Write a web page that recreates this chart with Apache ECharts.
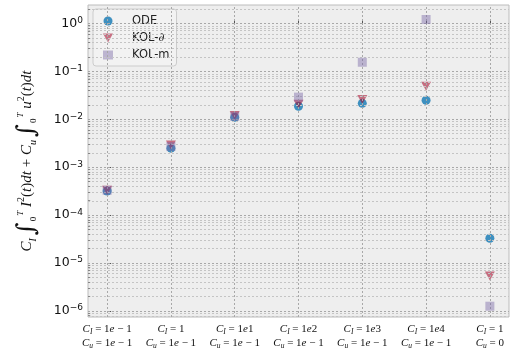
<!DOCTYPE html>
<html><head><meta charset="utf-8">
<script src="https://cdn.jsdelivr.net/npm/echarts@6/dist/echarts.min.js"></script>
<style>html,body{margin:0;padding:0;background:#fff}#c{width:510px;height:356px}</style>
</head><body><div id="c"></div>
<script>
// ---- data ----
const catCI = ['1e-1', '1', '1e1', '1e2', '1e3', '1e4', '1'];
const catCu = ['1e-1', '1e-1', '1e-1', '1e-1', '1e-1', '1e-1', '0'];
const odeVals  = [3.2e-4, 2.5e-3, 0.011, 0.0187, 0.0215, 0.025, 3.3e-5];
const kolDVals = [3.3e-4, 2.9e-3, 0.012, 0.0205, 0.026, 0.049, 5.4e-6];
const kolMVals = [3.3e-4, 2.7e-3, 0.0115, 0.029, 0.155, 1.21, 1.26e-6];
const yTickExps = [-6, -5, -4, -3, -2, -1, 0];
const xTicks = [0, 1, 2, 3, 4, 5, 6];

const Y_MIN = -6.125, Y_MAX = 0.385, X_MIN = -0.3, X_MAX = 6.3;

function toPts(vals) { return vals.map((v, i) => [i, Math.log10(v)]); }

function mathNum(s) {
  const m = s.match(/^(\d+)(?:e(-?)(\d+))?$/);
  let out = '{n|' + m[1] + '}';
  if (m[3] !== undefined) out += '{i|e}{n|' + (m[2] ? ' − ' : '') + m[3] + '}';
  return out;
}

// gridlines
const majorY = yTickExps.map(e => ({ yAxis: e }));
const minorY = [];
for (let e = -7; e <= 0; e++) {
  for (let k = 2; k <= 9; k++) {
    const v = Math.log10(k) + e;
    if (v > Y_MIN && v < Y_MAX) minorY.push(v);
  }
}
const minorTickLines = minorY.map(v => [{ coord: [X_MIN, v] }, { coord: [X_MIN + 0.035, v] }]);

const serif = 'Liberation Serif';
const chart = echarts.init(document.getElementById('c'));
chart.setOption({
  animation: false,
  backgroundColor: '#ffffff',
  grid: { left: 88, right: 1, top: 5, bottom: 39, show: true, backgroundColor: '#eeeeee', borderColor: '#bcbcbc', borderWidth: 1 },
  legend: {
    left: 93, top: 9, orient: 'vertical',
    itemWidth: 10, itemHeight: 9, itemGap: 5,
    padding: [6, 7, 5, 10],
    backgroundColor: 'rgba(242,242,242,0.85)', borderColor: '#cccccc', borderWidth: 1, borderRadius: 3,
    itemStyle: { borderWidth: 0 },
    data: ['ODE', 'KOL-∂', 'KOL-m'],
    formatter: function (n) {
      if (n === 'KOL-∂') return '{a|KOL-}{d|∂}';
      return '{a|' + n + '}';
    },
    textStyle: {
      padding: [0, 0, 0, 14],
      rich: {
        a: { fontFamily: 'DejaVu Sans', fontSize: 11.5, color: '#222', lineHeight: 12 },
        d: { fontFamily: 'DejaVu Serif', fontStyle: 'italic', fontSize: 11.5, color: '#222', lineHeight: 12 }
      }
    }
  },
  xAxis: {
    type: 'value', min: X_MIN, max: X_MAX,
    axisLine: { show: false },
    splitLine: { show: false },
    axisTick: { show: true, inside: true, length: 3, customValues: xTicks, lineStyle: { color: '#555' } },
    axisLabel: {
      customValues: xTicks, margin: 5, color: '#111', lineHeight: 14,
      formatter: function (v) {
        const i = Math.round(v);
        return '{i|C}{sb|I}{n| = }' + mathNum(catCI[i]) + '\n{i|C}{sb|u}{n| = }' + mathNum(catCu[i]);
      },
      rich: {
        n: { fontFamily: serif, fontSize: 11, lineHeight: 14, color: '#111' },
        i: { fontFamily: serif, fontStyle: 'italic', fontSize: 11, lineHeight: 14, color: '#111' },
        sb: { fontFamily: serif, fontStyle: 'italic', fontSize: 7.5, lineHeight: 8, verticalAlign: 'bottom', color: '#111' }
      }
    }
  },
  yAxis: {
    type: 'value', min: Y_MIN, max: Y_MAX,
    axisLine: { show: false },
    splitLine: { show: false },
    axisTick: { show: true, inside: true, length: 4, customValues: yTickExps, lineStyle: { color: '#555' } },
    axisLabel: {
      customValues: yTickExps, margin: 5, color: '#111',
      formatter: function (v) {
        const e = Math.round(v);
        return '{b|10}{s|' + (e < 0 ? '−' + (-e) : String(e)) + '}';
      },
      rich: {
        b: { fontFamily: 'DejaVu Sans', fontSize: 12.5, lineHeight: 15, color: '#111' },
        s: { fontFamily: 'DejaVu Sans', fontSize: 9, lineHeight: 7, verticalAlign: 'top', color: '#111' }
      }
    },
    name: '{i|C}{sb|I}{int|∫}{sb2|0}{sp2|T}{i| I}{sp|2}{n|(}{i|t}{n|)}{i|dt}{n| + }{i|C}{sb|u}{int|∫}{sb2|0}{sp2|T}{i| u}{sp|2}{n|(}{i|t}{n|)}{i|dt}',
    nameLocation: 'middle', nameRotate: 90, nameGap: 50,
    nameTextStyle: {
      rich: {
        n: { fontFamily: serif, fontSize: 15, lineHeight: 22, color: '#111' },
        i: { fontFamily: serif, fontStyle: 'italic', fontSize: 15, lineHeight: 22, color: '#111' },
        sb: { fontFamily: serif, fontStyle: 'italic', fontSize: 10, lineHeight: 12, verticalAlign: 'bottom', color: '#111' },
        sp: { fontFamily: serif, fontSize: 10, lineHeight: 13, verticalAlign: 'top', color: '#111' },
        int: { fontFamily: 'DejaVu Serif', fontSize: 25, lineHeight: 22, color: '#111', padding: [0, 1, 0, 3] },
        sb2: { fontFamily: serif, fontSize: 9, lineHeight: 8, verticalAlign: 'bottom', color: '#111' },
        sp2: { fontFamily: serif, fontStyle: 'italic', fontSize: 9, lineHeight: 8, verticalAlign: 'top', color: '#111', padding: [0, 0, 0, 1] }
      }
    }
  },
  series: [
    {
      name: 'grid', type: 'line', data: [], z: 1, silent: true,
      markLine: {
        silent: true, symbol: 'none', animation: false, label: { show: false },
        data: [].concat(
          minorY.map(v => ({ yAxis: v, lineStyle: { color: '#c4c4c4', width: 1, type: [2, 2] } })),
          majorY.map(d => ({ yAxis: d.yAxis, lineStyle: { color: '#a8a8a8', width: 1, type: [2, 2] } })),
          xTicks.map(x => ({ xAxis: x, lineStyle: { color: '#a8a8a8', width: 1, type: [2, 2] } })),
          minorTickLines.map(p => [Object.assign({ lineStyle: { color: '#777', width: 0.8, type: 'solid' } }, p[0]), p[1]])
        )
      }
    },
    { name: 'ODE', type: 'scatter', z: 3, data: toPts(odeVals), symbol: 'circle', symbolSize: 9,
      itemStyle: { color: 'rgba(52,138,189,0.95)', opacity: 1, borderWidth: 0 } },
    { name: 'KOL-∂', type: 'scatter', z: 4, data: toPts(kolDVals), symbol: 'path://M0,0L10,0L5,9Z', symbolSize: [10, 9],
      itemStyle: { color: 'rgba(166,6,40,0.55)', opacity: 1, borderWidth: 0 } },
    { name: 'KOL-m', type: 'scatter', z: 5, data: toPts(kolMVals), symbol: 'rect', symbolSize: 9,
      itemStyle: { color: 'rgba(122,104,166,0.45)', opacity: 1, borderWidth: 0 } }
  ]
});
</script></body></html>
